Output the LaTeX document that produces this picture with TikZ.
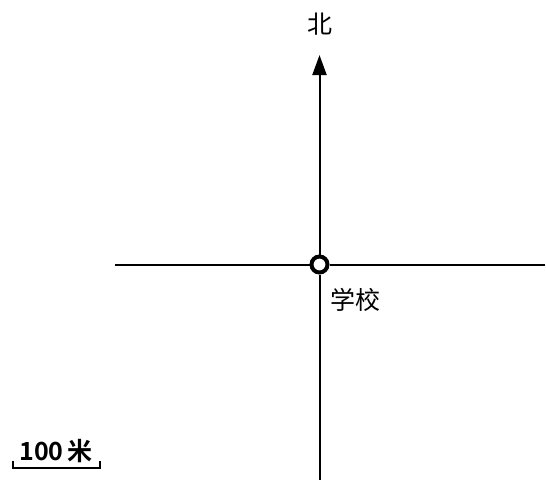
\documentclass[tikz,border=0pt]{standalone}
\usepackage{fontspec}
\newfontfamily\cjk{Noto Sans CJK SC}
\newfontfamily\cjkb{Noto Sans CJK SC Bold}
\usetikzlibrary{arrows.meta}
\begin{document}
\begin{tikzpicture}[x=1pt,y=-1pt,
  axis/.style={line width=2pt,black},
  lbl/.style={font=\cjk\fontsize{25}{25}\selectfont,inner sep=0pt}]
\useasboundingbox (0,0) rectangle (546,483);
\coordinate (N) at (319.5,55);
\coordinate (S) at (319.5,480);
\coordinate (W) at (115,264.5);
\coordinate (E) at (545,264.5);
\node[circle,draw,line width=4pt,fill=white,minimum size=16pt,inner sep=0pt] (school) at (319.5,264.5) {};
\draw[axis] (W) -- (school);
\draw[axis] (school) -- (E);
\draw[axis] (school) -- (S);
\draw[axis,-{Triangle[length=20pt,width=14pt]}] (school) -- (N);
\node[lbl] (north) at (320,24) {北};
\node[lbl] (schoollbl) at (355,300) {学校};
\node[inner sep=0pt,font=\cjkb\fontsize{25}{25}\selectfont] (scale) at (56,451) {100\,米};
\coordinate (b1) at (13,461);
\coordinate (b2) at (13,468);
\coordinate (b3) at (100,468);
\coordinate (b4) at (100,461);
\draw[line width=1.8pt] (b1) -- (b2) -- (b3) -- (b4);
\end{tikzpicture}
\end{document}
